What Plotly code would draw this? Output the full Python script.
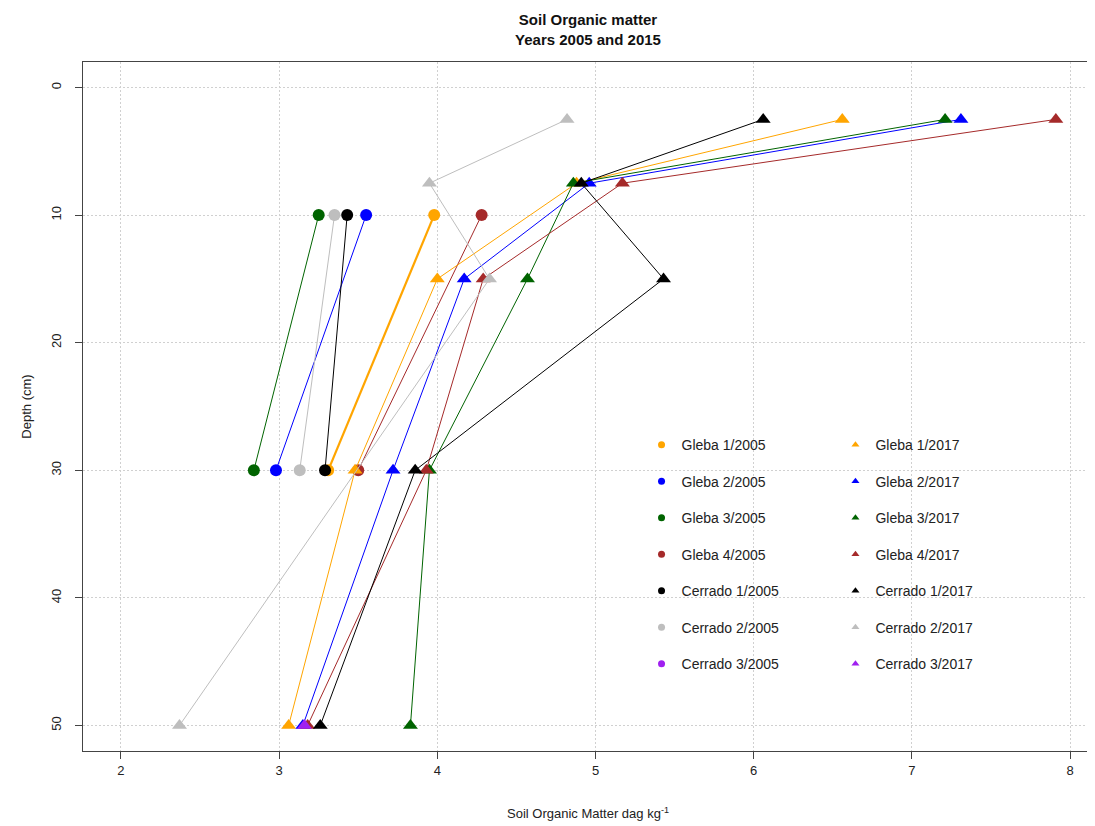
import plotly.graph_objects as go

# ---- data ----
depth_2005 = [10, 30]
depth_2017 = [2.5, 7.5, 15, 30, 50]

series = ["Gleba 1", "Gleba 2", "Gleba 3", "Gleba 4", "Cerrado 1", "Cerrado 2", "Cerrado 3"]
colors = ["#FFA500", "#0000FF", "#006400", "#A52A2A", "#000000", "#BEBEBE", "#A020F0"]

g1_2005 = [3.98, 3.31]
g2_2005 = [3.55, 2.98]
g3_2005 = [3.25, 2.84]
g4_2005 = [4.28, 3.50]
c1_2005 = [3.43, 3.29]
c2_2005 = [3.35, 3.13]
c3_2005 = [None, None]

g1_2017 = [6.56, 4.88, 4.00, 3.48, 3.06]
g2_2017 = [7.31, 4.96, 4.17, 3.72, 3.15]
g3_2017 = [7.21, 4.86, 4.57, 3.95, 3.83]
g4_2017 = [7.91, 5.17, 4.29, 3.93, 3.18]
c1_2017 = [6.06, 4.91, 5.43, 3.86, 3.26]
c2_2017 = [4.82, 3.95, 4.33, None, 2.37]
c3_2017 = [None, None, None, None, 3.16]

vals_2005 = [g1_2005, g2_2005, g3_2005, g4_2005, c1_2005, c2_2005, c3_2005]
vals_2017 = [g1_2017, g2_2017, g3_2017, g4_2017, c1_2017, c2_2017, c3_2017]

fig = go.Figure()

# data traces
for name, col, v in zip(series, colors, vals_2005):
    fig.add_trace(go.Scatter(
        x=v, y=depth_2005, mode="lines+markers", connectgaps=True,
        line=dict(color=col, width=2.2 if name == "Gleba 1" else 1),
        marker=dict(symbol="circle", size=12, color=col),
        showlegend=False, name=name + "/2005"))
for name, col, v in zip(series, colors, vals_2017):
    fig.add_trace(go.Scatter(
        x=v, y=depth_2017, mode="lines+markers", connectgaps=True,
        line=dict(color=col, width=1),
        marker=dict(symbol="triangle-up", size=13, color=col),
        showlegend=False, name=name + "/2017"))

# legend entries
for i, (name, col) in enumerate(zip(series, colors)):
    fig.add_trace(go.Scatter(x=[None], y=[None], mode="markers",
                             marker=dict(symbol="circle", size=7, color=col),
                             name=name + "/2005", legend="legend", legendgroup="a%d" % i))
    fig.add_trace(go.Scatter(x=[None], y=[None], mode="markers",
                             marker=dict(symbol="triangle-up", size=7, color=col),
                             name=name + "/2017", legend="legend2", legendgroup="b%d" % i))

leg_common = dict(bgcolor="rgba(255,255,255,0)", font=dict(family="Liberation Sans, Arial", size=14, color="#222"),
                  traceorder="grouped", tracegroupgap=15.3, yanchor="top", xanchor="left",
                  itemwidth=30, itemclick=False)

grid = dict(showgrid=True, gridcolor="#d0d0d0", griddash="2px,2px", gridwidth=1, zeroline=False)

fig.update_layout(
    width=1087, height=818,
    margin=dict(l=75, r=2, t=54, b=75, autoexpand=False),
    paper_bgcolor="white", plot_bgcolor="white",
    font=dict(family="Liberation Sans, Arial", color="#222"),
    title=dict(text="<b>Soil Organic matter<br>Years 2005 and 2015</b>",
               x=0.5, xref="paper", xanchor="center", y=0.9787, yanchor="top",
               font=dict(size=15, color="#111")),
    legend=dict(x=0.553, y=0.467, **leg_common),
    legend2=dict(x=0.745, y=0.467, **leg_common),
    xaxis=dict(range=[1.76, 8.145], tickvals=[2, 3, 4, 5, 6, 7, 8],
               ticks="outside", ticklen=7, tickcolor="#444",
               showline=True, linecolor="#444", linewidth=1, mirror=True,
               tickfont=dict(size=13, color="#222"), automargin=False,
               title=dict(text="Soil Organic Matter dag kg<sup>-1</sup>", font=dict(size=13, color="#222"), standoff=32),
               **grid),
    yaxis=dict(range=[52, -2], tickvals=[0, 10, 20, 30, 40, 50],
               ticks="outside", ticklen=7, tickcolor="#444", tickangle=-90,
               ticklabelstandoff=9,
               showline=True, linecolor="#444", linewidth=1, mirror=True,
               tickfont=dict(size=13, color="#222"), automargin=False,
               title=dict(text="Depth (cm)", font=dict(size=13, color="#222"), standoff=14),
               **grid),
)

fig.write_html("out.html")
